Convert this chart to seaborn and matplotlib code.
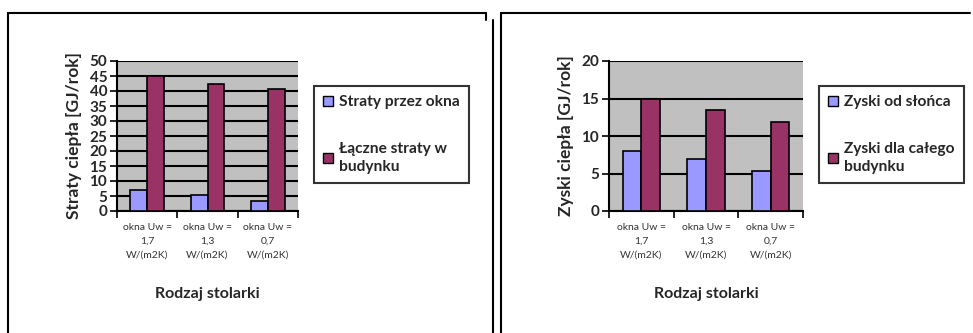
import numpy as np
import pandas as pd
import seaborn as sns
import matplotlib.pyplot as plt
from matplotlib.lines import Line2D
from matplotlib.ticker import MultipleLocator, FixedLocator

# Window types (x categories)
categories = ["okna Uw =\n1,7\nW/(m2K)", "okna Uw =\n1,3\nW/(m2K)", "okna Uw =\n0,7\nW/(m2K)"]

# Heat losses [GJ/rok]
loss_windows = [7.0, 5.3, 3.2]
loss_building = [45.0, 42.3, 40.8]
loss_series = ["Straty przez okna", "Łączne straty w\nbudynku"]

# Heat gains [GJ/rok]
gain_sun = [8.0, 6.9, 5.4]
gain_building = [15.0, 13.5, 11.9]
gain_series = ["Zyski od słońca", "Zyski dla całego\nbudynku"]

BLUE = "#9999FF"
PLUM = "#993366"
GREY = "#C0C0C0"

sns.set_style("white")
plt.rcParams["font.family"] = ["Lato", "DejaVu Sans"]

W, H = 973, 333
fig = plt.figure(figsize=(W / 100, H / 100), dpi=100)


def fx(px):
    return px / W


def fy(py):
    return 1 - py / H


def long_frame(a, b, names):
    return pd.DataFrame({
        "cat": categories * 2,
        "series": [names[0]] * 3 + [names[1]] * 3,
        "value": list(a) + list(b),
    })


def draw_panel(rect, a, b, names, ymax, ylabel, width, legend_xy):
    ax = fig.add_axes(rect)
    df = long_frame(a, b, names)
    sns.barplot(data=df, x="cat", y="value", hue="series", hue_order=names,
                palette=[BLUE, PLUM], width=width, edgecolor="black",
                linewidth=1.2, saturation=1, ax=ax, zorder=3, legend=True)
    ax.set_facecolor(GREY)
    ax.set_ylim(0, ymax)
    ax.set_xlim(-0.5, 2.5)
    ax.yaxis.set_major_locator(MultipleLocator(5))
    ax.set_axisbelow(True)
    ax.grid(axis="y", color="black", linewidth=1.5)
    ax.grid(axis="x", visible=False)
    for s in ("top", "right"):
        ax.spines[s].set_visible(False)
    for s in ("left", "bottom"):
        ax.spines[s].set_color("black")
        ax.spines[s].set_linewidth(1.5)
    ax.tick_params(axis="y", which="major", left=True, length=5, width=1.2,
                   color="black", labelsize=11, pad=2)
    for t in ax.get_yticklabels():
        t.set_fontweight("bold")
    ax.xaxis.set_minor_locator(FixedLocator([-0.5, 0.5, 1.5, 2.5]))
    ax.tick_params(axis="x", which="minor", bottom=True, length=5, width=1.2, color="black")
    ax.tick_params(axis="x", which="major", bottom=False, length=0, pad=9,
                   labelsize=7.5, labelcolor="#333333")
    for t in ax.get_xticklabels():
        t.set_linespacing(1.65)
    ax.set_xlabel("Rodzaj stolarki", fontsize=11.5, fontweight="bold", labelpad=20)
    ax.set_ylabel(ylabel, fontsize=12.5, fontweight="bold", labelpad=5)
    handles, labels = ax.get_legend_handles_labels()
    ax.get_legend().remove()
    leg = fig.legend(handles, labels, loc="upper left",
                     bbox_to_anchor=legend_xy, bbox_transform=fig.transFigure,
                     frameon=True, fancybox=False, edgecolor="black",
                     prop={"weight": "bold", "size": 11.2},
                     handlelength=0.6, handleheight=0.6, handletextpad=0.4,
                     labelspacing=2.1, borderpad=0.6, borderaxespad=0)
    leg.get_frame().set_linewidth(1.5)
    for t in leg.get_texts():
        t.set_linespacing(1.35)
    for h in leg.legend_handles:
        h.set_edgecolor("black")
        h.set_linewidth(1.0)
    return ax


draw_panel([fx(117), fy(211), fx(298 - 117), (211 - 61) / H],
           loss_windows, loss_building, loss_series, 50,
           "Straty ciepła [GJ/rok]", 0.56, (fx(314), fy(86)))
draw_panel([fx(609), fy(211), fx(803 - 609), (211 - 61) / H],
           gain_sun, gain_building, gain_series, 20,
           "Zyski ciepła [GJ/rok]", 0.58, (fx(819), fy(86)))

# Panel frames
frame_lines = [
    ([8, 8], [333, 13]), ([8, 486], [13, 13]), ([486, 486], [13, 20]),
    ([493, 493], [20, 333]),
    ([501, 501], [333, 13]), ([501, 970], [13, 13]),
]
for xs, ys in frame_lines:
    fig.add_artist(Line2D([fx(x) for x in xs], [fy(y) for y in ys],
                          color="black", linewidth=1.5, transform=fig.transFigure))

fig.savefig("out.png", dpi=100)
